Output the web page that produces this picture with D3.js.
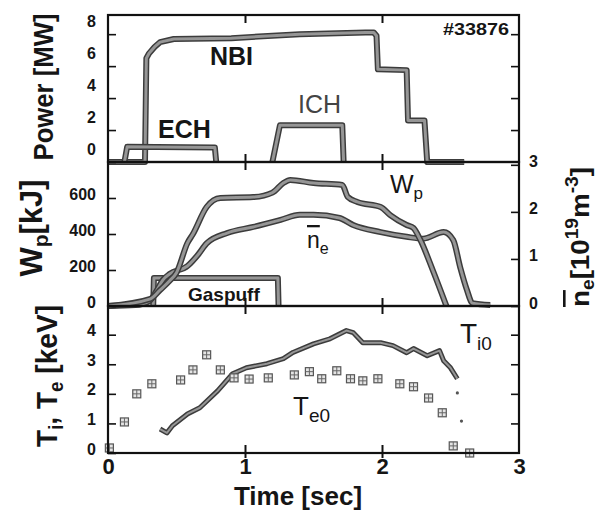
<!DOCTYPE html>
<html>
<head>
<meta charset="utf-8">
<script src="https://cdn.jsdelivr.net/npm/d3@7"></script>
<style>
  body { margin: 0; background: #fff; }
  text { font-family: "Liberation Sans", Arial, sans-serif; fill: #151515; }
</style>
</head>
<body>
<svg id="chart" width="600" height="510"></svg>
<script>
// time axis
const timeTicks = [0, 1, 2, 3];

// heating power [MW]
const nbiTime = [0, 0.27, 0.28, 0.30, 0.34, 0.38, 0.48, 0.90, 1.40, 1.88, 1.94, 1.96, 1.97, 2.18, 2.19, 2.31, 2.33, 2.60];
const nbiPower = [0, 0, 6.5, 6.8, 7.2, 7.5, 7.7, 7.75, 8.0, 8.1, 8.1, 7.9, 5.8, 5.75, 2.6, 2.6, 0, 0];
const echTime = [0.12, 0.14, 0.78, 0.79];
const echPower = [0, 0.95, 0.9, 0];
const ichTime = [1.2, 1.255, 1.71, 1.72];
const ichPower = [0, 2.3, 2.3, 0];
const powerTicks = [0, 2, 4, 6, 8];

// stored energy [kJ] and line density [10^19 m^-3]
const wpTime = [0, 0.31, 0.38, 0.45, 0.50, 0.58, 0.62, 0.72, 0.82, 1.06, 1.20, 1.28, 1.33, 1.50, 1.71, 1.75, 1.82, 1.99, 2.06, 2.18, 2.23, 2.28, 2.37, 2.47];
const wpVal = [0, 40, 89, 140, 185, 350, 400, 550, 600, 605, 630, 683, 700, 683, 672, 606, 578, 550, 505, 450, 433, 367, 200, 0];
const neTime = [0, 0.20, 0.30, 0.36, 0.40, 0.45, 0.58, 0.66, 0.72, 0.87, 1.06, 1.26, 1.40, 1.50, 1.69, 1.79, 1.99, 2.18, 2.30, 2.45, 2.52, 2.57, 2.62, 2.66, 2.79];
const neVal = [0, 0.02, 0.10, 0.35, 0.55, 0.68, 0.85, 1.10, 1.33, 1.55, 1.68, 1.83, 1.94, 1.94, 1.87, 1.72, 1.57, 1.47, 1.43, 1.57, 1.40, 0.83, 0.34, 0.06, 0.02];
const gasTime = [0.33, 0.335, 1.24, 1.245];
const gasVal = [0, 155, 155, 0];
const wpTicks = [0, 200, 400, 600];
const neTicks = [0, 1, 2, 3];

// temperatures [keV]
const tiTime = [0.38, 0.43, 0.47, 0.58, 0.67, 0.80, 0.91, 1.01, 1.16, 1.28, 1.35, 1.50, 1.62, 1.74, 1.79, 1.86, 1.99, 2.08, 2.18, 2.23, 2.33, 2.42, 2.45, 2.50, 2.55];
const tiVal = [0.81, 0.68, 0.92, 1.32, 1.53, 2.10, 2.68, 2.88, 3.02, 3.19, 3.40, 3.69, 3.86, 4.14, 4.07, 3.73, 3.73, 3.63, 3.39, 3.53, 3.29, 3.46, 3.12, 2.88, 2.51];
const tiDotTime = [2.55, 2.58];
const tiDotVal = [2.03, 1.08];
const teTime = [0.01, 0.12, 0.21, 0.32, 0.53, 0.62, 0.72, 0.82, 0.92, 1.03, 1.17, 1.36, 1.47, 1.56, 1.67, 1.77, 1.86, 1.97, 2.13, 2.23, 2.34, 2.44, 2.52, 2.64];
const teVal = [0.17, 1.05, 2.0, 2.34, 2.47, 2.81, 3.32, 2.81, 2.54, 2.5, 2.54, 2.64, 2.75, 2.51, 2.78, 2.51, 2.44, 2.51, 2.34, 2.24, 1.86, 1.36, 0.24, 0.0];
const tempTicks = [0, 1, 2, 3, 4];

const svg = d3.select("#chart");

const x = d3.scaleLinear().domain([0, 3]).range([108, 519]);
const yPow = d3.scaleLinear().domain([0, 9.2]).range([162, 15]);
const yWp = d3.scaleLinear().domain([0, 800]).range([306, 162]);
const yNe = d3.scaleLinear().domain([0, 3.06]).range([306, 162]);
const yTe = d3.scaleLinear().domain([0, 4.97]).range([453, 306]);

const panels = [yPow, yWp, yTe];

// thick grey scanned-looking trace
function trace(xs, ys, yScale, curve, w) {
  const pts = xs.map((t, i) => [t, ys[i]]);
  const line = d3
    .line()
    .x((d) => x(d[0]))
    .y((d) => yScale(d[1]))
    .curve(curve || d3.curveLinear);
  svg.append("path")
    .attr("d", line(pts))
    .attr("fill", "none")
    .attr("stroke", "#3c3c3c")
    .attr("stroke-width", w || 6)
    .attr("stroke-linejoin", "round");
  svg.append("path")
    .attr("d", line(pts))
    .attr("fill", "none")
    .attr("stroke", "#969696")
    .attr("stroke-width", (w || 6) - 3)
    .attr("stroke-linejoin", "round");
}

trace(nbiTime, nbiPower, yPow);
trace(echTime, echPower, yPow);
trace(ichTime, ichPower, yPow);
trace(gasTime, gasVal, yWp);
trace(neTime, neVal, yNe, d3.curveMonotoneX);
trace(wpTime, wpVal, yWp, d3.curveMonotoneX);
trace(tiTime, tiVal, yTe, d3.curveLinear, 5);

svg.selectAll(".tidot")
  .data(tiDotTime.map((t, i) => ({ t, v: tiDotVal[i] })))
  .join("circle")
  .attr("class", "tidot")
  .attr("cx", (d) => x(d.t))
  .attr("cy", (d) => yTe(d.v))
  .attr("r", 1.6)
  .attr("fill", "#555");

const te = svg.selectAll(".te")
  .data(teTime.map((t, i) => ({ t, v: teVal[i] })))
  .join("g")
  .attr("class", "te")
  .attr("transform", (d) => `translate(${x(d.t)},${yTe(d.v)})`);
te.append("rect")
  .attr("x", -4).attr("y", -4).attr("width", 8).attr("height", 8)
  .attr("fill", "#e4e4e4").attr("stroke", "#555").attr("stroke-width", 1.2);
te.append("path")
  .attr("d", "M-4,0H4M0,-4V4")
  .attr("stroke", "#666").attr("stroke-width", 1);

// frames
panels.forEach((y) => {
  const [y0, y1] = y.range();
  svg.append("rect")
    .attr("x", x(0)).attr("y", y1)
    .attr("width", x(3) - x(0)).attr("height", y0 - y1)
    .attr("fill", "none").attr("stroke", "#111").attr("stroke-width", 2.2);
  // time ticks on top and bottom edges
  [[d3.axisTop, y1], [d3.axisBottom, y0]].forEach(([ax, yy]) => {
    const g = svg.append("g")
      .attr("transform", `translate(0,${yy})`)
      .call(ax(x).tickValues([1, 2]).tickSize(-8).tickFormat(""));
    g.select(".domain").remove();
    g.selectAll("line").attr("stroke", "#111").attr("stroke-width", 2);
  });
});

function yAxis(scale, side, values, labels, dy) {
  const ax = side === "left" ? d3.axisLeft(scale) : d3.axisRight(scale);
  const g = svg.append("g")
    .attr("transform", `translate(${side === "left" ? x(0) : x(3)},0)`)
    .call(ax.tickValues(values).tickSize(-8).tickPadding(side === "left" ? 12 : 10)
      .tickFormat(labels ? d3.format("d") : ""));
  g.select(".domain").remove();
  g.selectAll("line").attr("stroke", "#111").attr("stroke-width", 1.6);
  g.selectAll("text")
    .attr("dy", dy)
    .style("font-size", "16px")
    .style("font-weight", "bold");
}

yAxis(yPow, "left", powerTicks, true, -8);
yAxis(yPow, "right", powerTicks.slice(1), false, 0);
yAxis(yWp, "left", wpTicks, true, 1);
yAxis(yNe, "right", neTicks, true, 2);
yAxis(yTe, "left", tempTicks, true, 1);
yAxis(yTe, "right", tempTicks.slice(1), false, 0);

// time axis labels
const xa = svg.append("g")
  .attr("transform", `translate(0,${yTe(0)})`)
  .call(d3.axisBottom(x).tickValues(timeTicks).tickSize(0).tickPadding(5).tickFormat(d3.format("d")));
xa.select(".domain").remove();
xa.selectAll("text").style("font-size", "22px").style("font-weight", "bold");
const xo = svg.append("g")
  .attr("transform", `translate(0,${yTe(0)})`)
  .call(d3.axisBottom(x).tickValues([1, 2]).tickSize(5).tickFormat(""));
xo.select(".domain").remove();
xo.selectAll("line").attr("stroke", "#111").attr("stroke-width", 2);

svg.append("text")
  .attr("x", 298).attr("y", 504.5)
  .attr("text-anchor", "middle")
  .style("font-size", "26px").style("font-weight", "bold")
  .text("Time [sec]");

// axis titles
svg.append("text")
  .attr("transform", "translate(53,87) rotate(-90)")
  .attr("text-anchor", "middle")
  .attr("textLength", 147).attr("lengthAdjust", "spacingAndGlyphs")
  .style("font-size", "28px").style("font-weight", "bold")
  .text("Power [MW]");

const wl = svg.append("text")
  .attr("transform", "translate(42,228) rotate(-90)")
  .attr("text-anchor", "middle")
  .attr("textLength", 97).attr("lengthAdjust", "spacingAndGlyphs")
  .style("font-size", "31px").style("font-weight", "bold");
wl.append("tspan").text("W");
wl.append("tspan").attr("dy", 6).style("font-size", "21px").text("p");
wl.append("tspan").attr("dy", -6).text("[kJ]");

const tl = svg.append("text")
  .attr("transform", "translate(57,376) rotate(-90)")
  .attr("text-anchor", "middle")
  .attr("textLength", 142).attr("lengthAdjust", "spacingAndGlyphs")
  .style("font-size", "30px").style("font-weight", "bold");
tl.append("tspan").text("T");
tl.append("tspan").attr("dy", 6).style("font-size", "20px").text("i");
tl.append("tspan").attr("dy", -6).text(", T");
tl.append("tspan").attr("dy", 6).style("font-size", "20px").text("e");
tl.append("tspan").attr("dy", -6).text(" [keV]");

const nl = svg.append("text")
  .attr("transform", "translate(589,237) rotate(-90)")
  .attr("text-anchor", "middle")
  .attr("textLength", 140).attr("lengthAdjust", "spacingAndGlyphs")
  .style("font-size", "26px").style("font-weight", "bold");
nl.append("tspan").style("text-decoration", "overline").text("n");
nl.append("tspan").attr("dy", 5).style("font-size", "18px").text("e");
nl.append("tspan").attr("dy", -5).text("[10");
nl.append("tspan").attr("dy", -11).style("font-size", "18px").text("19");
nl.append("tspan").attr("dy", 11).text("m");
nl.append("tspan").attr("dy", -11).style("font-size", "18px").text("-3");
nl.append("tspan").attr("dy", 11).text("]");

// annotations
function label(xp, yp, txt, size, weight) {
  return svg.append("text")
    .attr("x", xp).attr("y", yp)
    .style("font-size", size + "px").style("font-weight", weight || "normal")
    .text(txt);
}
label(210, 65, "NBI", 25, "bold");
label(158, 138, "ECH", 25, "bold");
label(298, 113, "ICH", 25, "normal").style("fill", "#444");
label(443, 35, "#33876", 16, "bold").attr("textLength", 66).attr("lengthAdjust", "spacingAndGlyphs");
label(188, 301, "Gaspuff", 19, "bold");

const wpl = label(390, 193, "W", 25);
wpl.append("tspan").attr("dy", 6).style("font-size", "17px").text("p");
const nel = label(307, 248, "", 23);
nel.append("tspan").style("text-decoration", "overline").text("n");
nel.append("tspan").attr("dy", 6).style("font-size", "16px").text("e");
const til = label(460, 343, "T", 28);
til.append("tspan").attr("dy", 7).style("font-size", "19px").text("i0");
const tel = label(293, 415, "T", 26);
tel.append("tspan").attr("dy", 7).style("font-size", "19px").text("e0");
</script>
</body>
</html>
